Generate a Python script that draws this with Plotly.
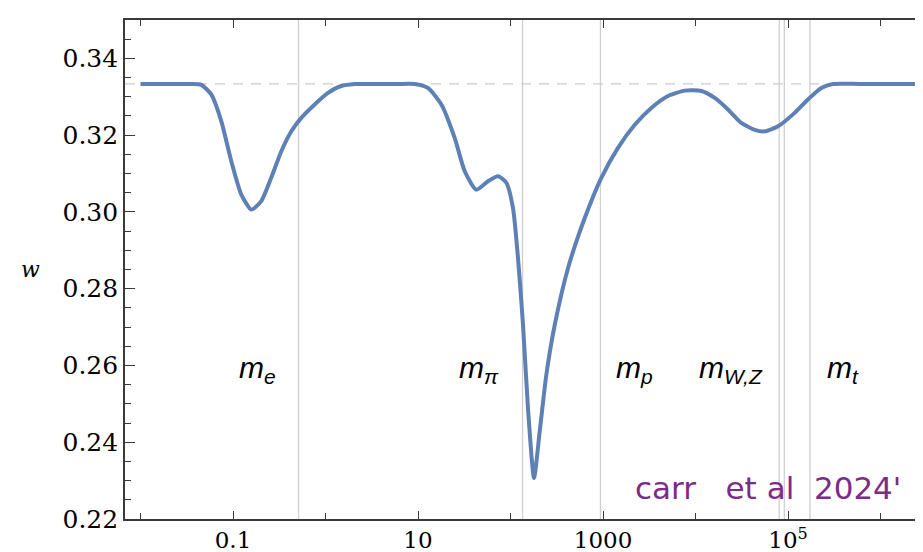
import math
import plotly.graph_objects as go

# Temperature (MeV) and equation-of-state parameter w
T_MeV = [0.01, 0.02, 0.035, 0.0454, 0.0582, 0.0748, 0.0959, 0.123, 0.158, 0.202,
         0.259, 0.333, 0.427, 0.547, 0.764, 1.064, 1.48, 2.07, 3.5, 6.0, 9.2,
         12.8, 17.9, 24.9, 32.0, 42.7, 57.1, 73.3, 90.2, 106.4, 120.5, 136.5,
         154.5, 179.5, 207, 244, 301, 419, 635, 959, 1452, 2203, 3327, 5047,
         7656, 11560, 16140, 22440, 31260, 43650, 55980, 77980, 118000, 164400,
         229100, 306200, 600000, 1200000, 3430000]
w_vals = [0.33333, 0.33333, 0.33333, 0.3331, 0.3306, 0.3236, 0.3132, 0.3045, 0.3006, 0.3028,
          0.3089, 0.3158, 0.3210, 0.3245, 0.3280, 0.3310, 0.3328, 0.33333, 0.33333, 0.33333, 0.33333,
          0.3323, 0.3280, 0.3193, 0.3106, 0.3058, 0.3080, 0.3093, 0.3076, 0.3010, 0.2880, 0.2706,
          0.2489, 0.2307, 0.2429, 0.2576, 0.2706, 0.2854, 0.2984, 0.3089, 0.3167, 0.3227, 0.3271, 0.3302,
          0.3316, 0.3315, 0.3297, 0.3267, 0.3232, 0.3214, 0.3210, 0.3223, 0.3258, 0.3293,
          0.3323, 0.33333, 0.33333, 0.33333, 0.33333]

# particle masses (MeV) marked by vertical lines
mass_values = [0.511, 135.0, 938.3, 80379, 91188, 172760]
mass_labels = ["<i>m</i><sub><i>e</i></sub>", "<i>m</i><sub><i>π</i></sub>",
               "<i>m</i><sub><i>p</i></sub>", "<i>m</i><sub><i>W,Z</i></sub>",
               "<i>m</i><sub><i>t</i></sub>"]
label_T = [0.186, 45.6, 2163, 24200, 393000]

x_tickvals = [0.1, 10, 1000, 1e5]
x_ticktext = ["0.1", "10", "1000", "10<sup>5</sup>"]
x_minor_ticks = [0.01, 1, 100, 1e4, 1e6]
w_radiation = 1/3
citation = "carr\u00a0\u00a0\u00a0et\u00a0al\u00a0\u00a02024'"

blue = "#5E81B5"
axis_col = "#3a3a3a"
y_tick_font = dict(family="DejaVu Serif", size=25, color="black")
x_tick_font = dict(family="DejaVu Serif", size=23, color="black")

fig = go.Figure()
fig.add_trace(go.Scatter(x=T_MeV, y=w_vals, mode="lines",
                         line=dict(color=blue, width=4, shape="spline", smoothing=0.6),
                         hoverinfo="skip", showlegend=False))

shapes = []
for m in mass_values:
    shapes.append(dict(type="line", xref="x", yref="paper", x0=m, x1=m, y0=0, y1=1,
                       line=dict(color="#cfcfcf", width=1.3), layer="below"))
shapes.append(dict(type="line", xref="paper", yref="y", x0=0, x1=1, y0=w_radiation, y1=w_radiation,
                   line=dict(color="#cccccc", width=1.3, dash="10px,8px"), layer="below"))

annotations = []
for lt, lab in zip(label_T, mass_labels):
    annotations.append(dict(x=math.log10(lt), y=0.259, xref="x", yref="y", text=lab, showarrow=False,
                            font=dict(family="Liberation Sans", size=30, color="black"),
                            xanchor="center", yanchor="middle"))
annotations.append(dict(x=-0.118, y=0.5, xref="paper", yref="paper", text="<i>w</i>", showarrow=False,
                        xanchor="center", yanchor="middle",
                        font=dict(family="DejaVu Serif", size=22, color="black")))
annotations.append(dict(x=0.631, y=0.062, xref="paper", yref="paper", text=citation,
                        showarrow=False, xanchor="left", yanchor="middle",
                        font=dict(family="DejaVu Sans", size=31, color="#7e2a8a")))

fig.update_layout(
    width=923, height=552,
    margin=dict(l=117, r=1, t=12, b=41, autoexpand=False),
    paper_bgcolor="white", plot_bgcolor="white",
    shapes=shapes,
    annotations=annotations,
    xaxis=dict(type="log", range=[-2.1676, 6.535], showgrid=False, zeroline=False,
               automargin=False,
               showline=True, linecolor=axis_col, linewidth=1.6, mirror="ticks",
               ticks="inside", ticklen=8, tickwidth=1.2, tickcolor=axis_col,
               tickmode="array", tickvals=x_tickvals, ticktext=x_ticktext,
               tickfont=x_tick_font,
               minor=dict(tickmode="array", tickvals=x_minor_ticks, ticks="inside",
                          ticklen=6, tickwidth=1.0, tickcolor=axis_col, showgrid=False)),
    yaxis=dict(range=[0.22, 0.35], showgrid=False, zeroline=False,
               automargin=False,
               showline=True, linecolor=axis_col, linewidth=1.6, mirror="ticks",
               ticks="inside", ticklen=10, tickwidth=1.2, tickcolor=axis_col,
               tick0=0.22, dtick=0.02, tickformat=".2f", tickfont=y_tick_font,
               minor=dict(dtick=0.005, tick0=0.22, ticks="inside", ticklen=6,
                          tickwidth=1.0, tickcolor=axis_col, showgrid=False)),
)

fig.write_html("out.html")
